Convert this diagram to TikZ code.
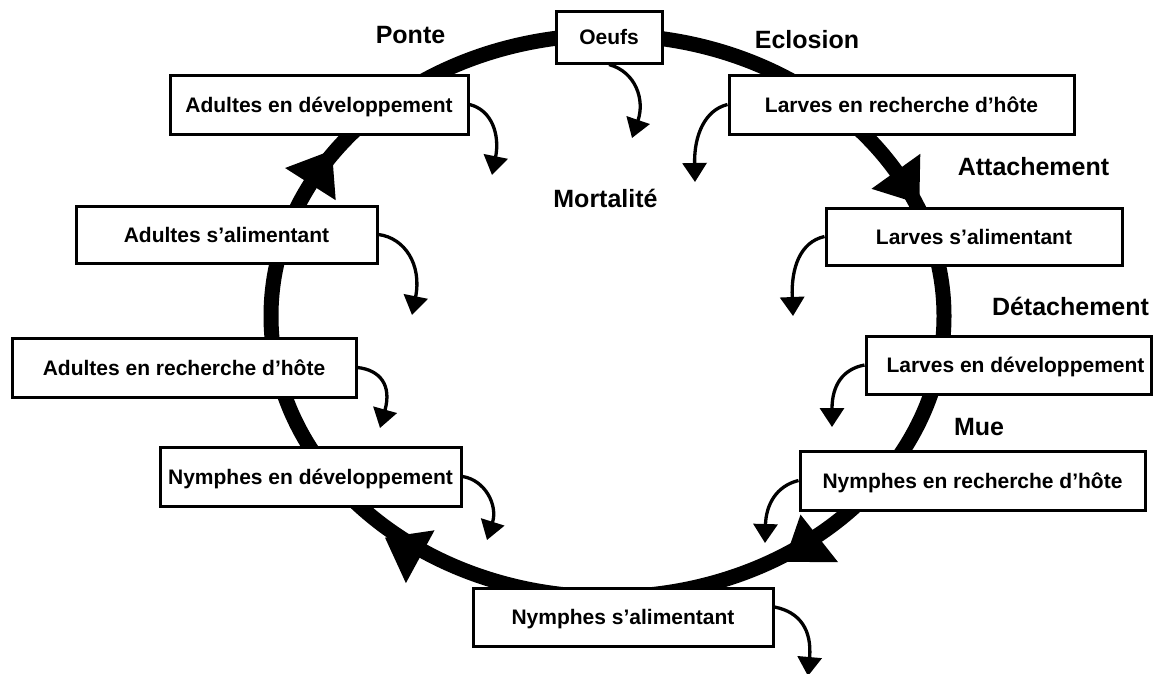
\documentclass[tikz,border=0pt]{standalone}
\usepackage{fontspec}
\setmainfont{Liberation Sans}
\usetikzlibrary{arrows.meta}
\begin{document}
\begin{tikzpicture}[x=1pt,y=-1pt,
  box/.style={draw, line width=3pt, fill=white, inner sep=0pt,
    font=\fontsize{21}{25}\selectfont\bfseries, text height=15pt, text depth=0pt},
  lbl/.style={font=\fontsize{25}{30}\selectfont\bfseries, anchor=base, inner sep=0pt},
  mort/.style={line width=3.3pt, -{Triangle[length=19pt,width=24pt]}},
  cyc/.style={line width=15pt},
  head/.style={fill=black}]
\useasboundingbox (0,0) rectangle (1159,673);
% life cycle ring
\draw[cyc] (607.5,316) ellipse [x radius=336.5, y radius=281];
% big arrow heads on the ring (clockwise)
\fill[head] (871.5,188.8) -- (919.3,203.8) -- (920.3,153.8) -- cycle;
\fill[head] (800.5,514.6) -- (784.2,561.8) -- (838.1,562.2) -- cycle;
\fill[head] (434.5,530.3) -- (385.0,537.6) -- (405.9,583.1) -- cycle;
\fill[head] (335.7,200.2) -- (331.9,150.3) -- (285.1,168.0) -- cycle;
% stages
\node[box, minimum width=106, minimum height=52] (oeufs) at (609,37) {Oeufs};
\node[box, minimum width=345, minimum height=59] (lrh) at (901.5,104.5) {Larves en recherche d’hôte};
\node[box, minimum width=296, minimum height=57] (lsa) at (974,236.5) {Larves s’alimentant};
\node[box, minimum width=285, minimum height=58] (lde) at (1008.5,365) {\hspace*{14pt}Larves en développement};
\node[box, minimum width=345, minimum height=59] (nrh) at (972.5,480.5) {Nymphes en recherche d’hôte};
\node[box, minimum width=300, minimum height=58] (nsa) at (623,617) {Nymphes s’alimentant};
\node[box, minimum width=301, minimum height=59] (nde) at (310.5,476.5) {Nymphes en développement};
\node[box, minimum width=344, minimum height=59] (are) at (184,367.5) {Adultes en recherche d’hôte};
\node[box, minimum width=301, minimum height=57] (asa) at (226.5,234.5) {Adultes s’alimentant};
\node[box, minimum width=298, minimum height=59] (ade) at (319,104.5) {Adultes en développement};
% transition labels
\node[lbl] (ponte) at (410.5,43) {Ponte};
\node[lbl] (eclosion) at (807,48) {Eclosion};
\node[lbl] (attach) at (1033.5,175) {Attachement};
\node[lbl] (mortalite) at (605.5,207) {Mortalité};
\node[lbl] (detach) at (1070.5,315) {Détachement};
\node[lbl] (mue) at (979,435) {Mue};
% mortality arrows
\coordinate (m1) at (632,138);
\coordinate (m2) at (695,182);
\coordinate (m3) at (793,316);
\coordinate (m4) at (832,427);
\coordinate (m5) at (765,543);
\coordinate (m6) at (808,676);
\coordinate (m7) at (487,540);
\coordinate (m8) at (380,428);
\coordinate (m9) at (412,315);
\coordinate (m10) at (492,175);
\draw[mort] (oeufs.south) .. controls (636,72) and (645,100) .. (m1);
\draw[mort] (lrh.west) .. controls (705,110) and (694,135) .. (m2);
\draw[mort] (lsa.west) .. controls (800,242) and (791,268) .. (m3);
\draw[mort] (lde.west) .. controls (843,369) and (832,385) .. (m4);
\draw[mort] (nrh.west) .. controls (776,486) and (766,505) .. (m5);
\draw[mort] ([yshift=10pt]nsa.east) .. controls (800,612) and (812,630) .. (m6);
\draw[mort] (nde.east) .. controls (485,480) and (498,505) .. (m7);
\draw[mort] (are.east) .. controls (380,370) and (392,385) .. (m8);
\draw[mort] (asa.east) .. controls (405,238) and (422,265) .. (m9);
\draw[mort] (ade.east) .. controls (492,110) and (500,135) .. (m10);
\end{tikzpicture}
\end{document}
